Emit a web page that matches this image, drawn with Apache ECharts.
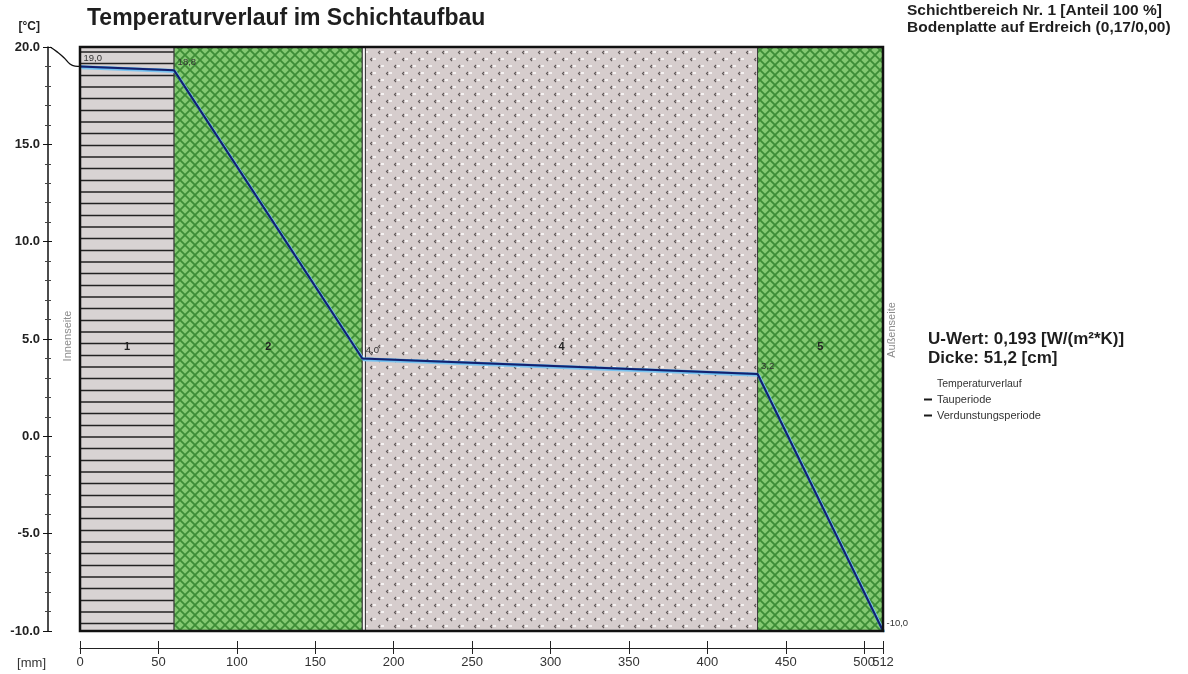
<!DOCTYPE html>
<html>
<head>
<meta charset="utf-8">
<script src="https://cdn.jsdelivr.net/npm/echarts@6/dist/echarts.min.js"></script>
<style>
  html, body { margin: 0; padding: 0; background: #ffffff; }
  #chart { width: 1188px; height: 674px; }
</style>
</head>
<body>
<div id="chart"></div>
<script>
// Layer build-up, measured in mm from the inner side
const layerNames = ['1', '2', '', '4', '5'];
const layerFrom = [0, 60, 180, 182, 432];
const layerTo = [60, 180, 182, 432, 512];
const layerKinds = ['lines', 'hatch', 'foil', 'dots', 'hatch'];

// Temperature profile at the layer boundaries (°C)
const profileX = [0, 60, 180, 432, 512];
const profileT = [19.0, 18.8, 4.0, 3.2, -10.0];

// Drop from the room air to the inner surface (mm in front of the wall)
const surfaceX = [-19.0, -14.6, -10.2, -6.4, -3.2, 0];
const surfaceT = [20.0, 19.75, 19.45, 19.13, 19.02, 19.0];

// Axis ticks: regular 50 mm steps plus the total thickness at the end
const xTickValues = [0, 50, 100, 150, 200, 250, 300, 350, 400, 450, 500];
const xEndTick = [512];
const yMin = -10, yMax = 20, yStep = 5;
const xMin = 0, xMax = 512;

const FONT = 'Liberation Sans, Arial, sans-serif';

// Plot frame and the detached temperature axis on its left
const PLOT = { left: 80, right: 305, top: 47, bottom: 43 };
const Y_AXIS_GAP = 32;
const plotWidth = 1188 - PLOT.left - PLOT.right;
// x-range of the wider helper grid that reaches out to the temperature axis
const airMin = -Y_AXIS_GAP * xMax / plotWidth;

function makeCanvas(w, h) {
  const c = document.createElement('canvas');
  c.width = w; c.height = h;
  return c;
}

// Green cross-hatch (insulation)
function hatchPattern() {
  const s = 10, c = makeCanvas(s, s), g = c.getContext('2d');
  g.fillStyle = '#84c972';
  g.fillRect(0, 0, s, s);
  g.strokeStyle = '#3d8d37';
  g.lineWidth = 1.8;
  g.beginPath();
  g.moveTo(0, 0); g.lineTo(s, s);
  g.moveTo(s, 0); g.lineTo(0, s);
  g.stroke();
  return c;
}

// Grey with horizontal lines (screed)
function linesPattern() {
  const c = makeCanvas(8, 35), g = c.getContext('2d');
  g.fillStyle = '#d8d3d3';
  g.fillRect(0, 0, 8, 35);
  g.strokeStyle = '#222222';
  g.lineWidth = 1.5;
  g.beginPath();
  [5.5, 17, 28.5].forEach(y => { g.moveTo(0, y); g.lineTo(8, y); });
  g.stroke();
  return c;
}

// Light grey with small specks (concrete)
function dotsPattern() {
  const c = makeCanvas(16, 14), g = c.getContext('2d');
  g.fillStyle = '#d6cdcd';
  g.fillRect(0, 0, 16, 14);
  g.fillStyle = '#f5f2f2';
  g.fillRect(5, 2, 3, 2);
  g.fillRect(13, 9, 3, 2);
  g.strokeStyle = '#5e5757';
  g.lineWidth = 1.1;
  g.beginPath();
  g.moveTo(4, 2); g.lineTo(2.5, 3.5); g.lineTo(4, 5);
  g.moveTo(12, 9); g.lineTo(10.5, 10.5); g.lineTo(12, 12);
  g.stroke();
  return c;
}

const fills = {
  hatch: { image: hatchPattern(), repeat: 'repeat' },
  lines: { image: linesPattern(), repeat: 'repeat' },
  dots: { image: dotsPattern(), repeat: 'repeat' },
  foil: '#f6f4f4'
};

const layerAreas = layerFrom.map((from, i) => [
  {
    name: layerNames[i],
    xAxis: from,
    yAxis: yMin,
    itemStyle: { color: fills[layerKinds[i]], borderColor: '#3a3a3a', borderWidth: 1 }
  },
  { xAxis: layerTo[i], yAxis: yMax }
]);

const profile = profileX.map((x, i) => [x, profileT[i]]);
const surface = surfaceX.map((x, i) => [x, surfaceT[i]]);

const xLabelStyle = { fontSize: 13, color: '#333333', margin: 8, hideOverlap: false };
const tickColor = { color: '#222222' };

const chart = echarts.init(document.getElementById('chart'), null, { renderer: 'canvas' });

chart.setOption({
  animation: false,
  backgroundColor: '#ffffff',
  textStyle: { fontFamily: FONT },
  title: [
    {
      text: 'Temperaturverlauf im Schichtaufbau',
      left: 87, top: 7, padding: 0,
      textStyle: { fontSize: 23, fontWeight: 'bold', color: '#1e1e1e', fontFamily: FONT }
    },
    {
      text: 'Schichtbereich Nr. 1 [Anteil 100 %]\nBodenplatte auf Erdreich (0,17/0,00)',
      left: 907, top: 2, padding: 0,
      textStyle: { fontSize: 15.5, fontWeight: 'bold', color: '#1e1e1e', lineHeight: 17, fontFamily: FONT }
    },
    {
      text: 'U-Wert: 0,193 [W/(m²*K)]\nDicke: 51,2 [cm]',
      left: 928, top: 330, padding: 0,
      textStyle: { fontSize: 17, fontWeight: 'bold', color: '#1e1e1e', lineHeight: 19, fontFamily: FONT }
    },
    {
      text: 'Temperaturverlauf',
      left: 937, top: 379, padding: 0,
      textStyle: { fontSize: 10.5, fontWeight: 'normal', color: '#333333', fontFamily: FONT }
    }
  ],
  legend: {
    left: 924, top: 394, padding: 0,
    orient: 'vertical',
    icon: 'rect',
    itemWidth: 8, itemHeight: 2, itemGap: 5,
    selectedMode: false,
    textStyle: { fontSize: 11, color: '#333333', fontFamily: FONT },
    data: [
      { name: 'Tauperiode', itemStyle: { color: '#1a1a1a' } },
      { name: 'Verdunstungsperiode', itemStyle: { color: '#1a1a1a' } }
    ]
  },
  graphic: [
    {
      type: 'text', x: 68, y: 336, rotation: Math.PI / 2,
      style: { text: 'Innenseite', fill: '#8c8c8c', font: '11px ' + FONT, align: 'center', verticalAlign: 'middle' }
    },
    {
      type: 'text', x: 892, y: 330, rotation: Math.PI / 2,
      style: { text: 'Außenseite', fill: '#8c8c8c', font: '11px ' + FONT, align: 'center', verticalAlign: 'middle' }
    }
  ],
  grid: [
    {
      left: PLOT.left, right: PLOT.right, top: PLOT.top, bottom: PLOT.bottom,
      show: true, z: 10,
      backgroundColor: 'transparent',
      borderColor: '#111111', borderWidth: 2.5
    },
    {
      left: PLOT.left - Y_AXIS_GAP, right: PLOT.right, top: PLOT.top, bottom: PLOT.bottom,
      show: false
    }
  ],
  xAxis: [
    {
      type: 'value', gridIndex: 0,
      min: xMin, max: xMax,
      position: 'bottom', offset: 17,
      name: '[mm]', nameLocation: 'start', nameGap: 34,
      nameTextStyle: { fontSize: 13, color: '#333333', verticalAlign: 'top', padding: [9, 0, 0, 0] },
      axisLine: { onZero: false, lineStyle: { color: '#222222', width: 1.2 } },
      axisTick: { length: 6, customValues: xTickValues, lineStyle: tickColor },
      axisLabel: Object.assign({ customValues: xTickValues, showMaxLabel: true, showMinLabel: true }, xLabelStyle),
      splitLine: { show: false }
    },
    {
      type: 'value', gridIndex: 0,
      min: xMin, max: xMax,
      position: 'bottom', offset: 17,
      axisLine: { show: false, onZero: false },
      axisTick: { length: 6, customValues: xEndTick, lineStyle: tickColor },
      axisLabel: Object.assign({ customValues: xEndTick, showMaxLabel: true }, xLabelStyle),
      splitLine: { show: false }
    },
    {
      // upward half of the crossing ticks
      type: 'value', gridIndex: 0,
      min: xMin, max: xMax,
      position: 'bottom', offset: 17,
      axisLine: { show: false, onZero: false },
      axisTick: { length: 7, inside: true, customValues: xTickValues.concat(xEndTick), lineStyle: tickColor },
      axisLabel: { show: false },
      splitLine: { show: false }
    },
    {
      type: 'value', gridIndex: 1,
      min: airMin, max: xMax,
      show: false
    }
  ],
  yAxis: [
    {
      type: 'value', gridIndex: 0,
      min: yMin, max: yMax, interval: yStep,
      position: 'left', offset: Y_AXIS_GAP,
      name: '[°C]', nameLocation: 'end', nameGap: 14,
      nameTextStyle: { fontSize: 12, fontWeight: 'bold', color: '#222222', align: 'right', padding: [0, 8, 0, 0] },
      axisLine: { show: true, onZero: false, lineStyle: { color: '#111111', width: 1.5 } },
      axisTick: { show: true, length: 5, lineStyle: { color: '#111111' } },
      minorTick: { show: true, splitNumber: 5, length: 3, lineStyle: { color: '#444444' } },
      axisLabel: { fontSize: 13, fontWeight: 'bold', color: '#222222', margin: 8, formatter: v => v.toFixed(1) },
      splitLine: { show: false }
    },
    {
      // right-hand half of the crossing ticks
      type: 'value', gridIndex: 0,
      min: yMin, max: yMax, interval: yStep,
      position: 'left', offset: Y_AXIS_GAP,
      axisLine: { show: false, onZero: false },
      axisTick: { show: true, inside: true, length: 4, lineStyle: { color: '#111111' } },
      minorTick: { show: true, splitNumber: 5, length: 3, lineStyle: { color: '#444444' } },
      axisLabel: { show: false },
      splitLine: { show: false }
    },
    {
      type: 'value', gridIndex: 1,
      min: yMin, max: yMax,
      show: false
    }
  ],
  series: [
    {
      name: 'Innenoberfläche',
      type: 'line',
      xAxisIndex: 3, yAxisIndex: 2,
      data: surface,
      smooth: true,
      symbol: 'none',
      lineStyle: { color: '#111111', width: 1.3 },
      z: 6
    },
    {
      name: 'Schichten',
      type: 'line',
      xAxisIndex: 0, yAxisIndex: 0,
      data: [],
      z: 1,
      markArea: { silent: true, label: { show: true, position: 'inside', offset: [0, 8], fontSize: 11, fontWeight: 'bold', color: '#222222' }, data: layerAreas }
    },
    {
      name: 'Verdunstungsperiode',
      type: 'line',
      xAxisIndex: 0, yAxisIndex: 0,
      data: profile,
      symbol: 'none',
      color: '#4aa6e2',
      lineStyle: { color: '#4aa6e2', width: 2.5, shadowColor: '#7cc3ef', shadowBlur: 0, shadowOffsetX: 1.5, shadowOffsetY: 1.5 },
      z: 4
    },
    {
      name: 'Tauperiode',
      type: 'line',
      xAxisIndex: 0, yAxisIndex: 0,
      data: profile,
      symbol: 'circle', symbolSize: 1,
      color: '#13206e',
      itemStyle: { color: '#13206e' },
      lineStyle: { color: '#13206e', width: 2 },
      label: {
        show: true, position: 'right', distance: 3, offset: [0, -8],
        fontSize: 9.5, color: '#333333',
        formatter: p => p.value[1].toFixed(1).replace('.', ',')
      },
      z: 5
    }
  ]
});
</script>
</body>
</html>
